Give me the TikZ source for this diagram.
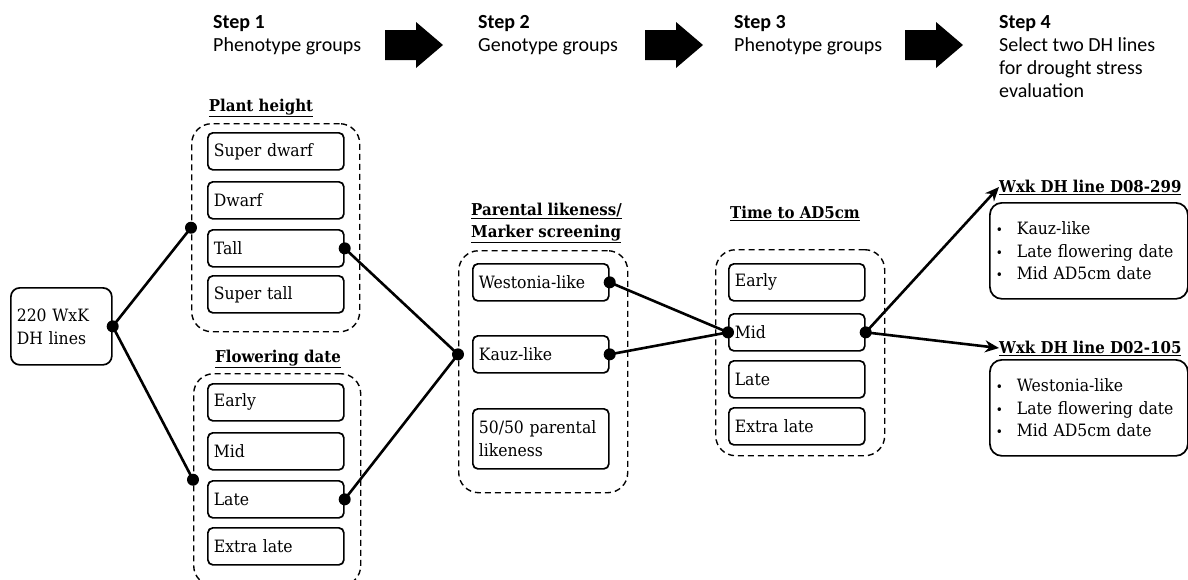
\documentclass[tikz,border=0pt]{standalone}
\usepackage{fontspec}
\setmainfont{DejaVu Serif}[FakeStretch=0.92]
\newfontfamily\stepfont{Carlito}
\usetikzlibrary{arrows.meta}

\tikzset{
  itembox/.style={draw, rounded corners=5pt, line width=1.7pt, text width=124pt,
    minimum height=37pt, inner xsep=6pt, inner ysep=3pt, align=left, anchor=north west,
    font=\fontsize{17}{23}\selectfont},
  groupbox/.style={draw, rounded corners=20pt, line width=1.4pt, dash pattern=on 6pt off 4pt,
    inner sep=0pt, anchor=north west},
  grouptitle/.style={font=\bfseries\fontsize{16.3}{22}\selectfont, inner sep=0pt},
  steplabel/.style={font=\stepfont\fontsize{20}{23}\selectfont, align=left, inner sep=0pt, anchor=north west},
  conn/.style={line width=2.6pt},
  pick/.style={line width=2.6pt, -{Stealth[length=14pt,width=12pt]}},
  dot/.style={fill=black},
  resultbox/.style={draw, rounded corners=12pt, line width=1.7pt, text width=186pt,
    minimum height=96pt, inner xsep=6pt, align=left, anchor=north west,
    font=\fontsize{17}{22.5}\selectfont},
  blockarrow/.style={fill=black}
}

\newcommand{\bul}[1]{{\fontsize{13}{13}\selectfont\textbullet}\hspace{14pt}#1}

\begin{document}
\begin{tikzpicture}[x=1pt,y=-1pt]
\useasboundingbox (0,0) rectangle (1188,579);

% step headings
\node[steplabel] (s1) at (213,15) {\textbf{Step 1}\\Phenotype groups};
\node[steplabel] (s2) at (478,15) {\textbf{Step 2}\\Genotype groups};
\node[steplabel] (s3) at (734,15) {\textbf{Step 3}\\Phenotype groups};
\node[steplabel] (s4) at (999,15) {\textbf{Step 4}\\Select two DH lines\\for drought stress\\evaluation};

% block arrows between steps
\foreach \x in {385,645,905} {
  \fill[blockarrow] (\x,30) -- (\x+31,30) -- (\x+31,22) -- (\x+58,45)
     -- (\x+31,68) -- (\x+31,60) -- (\x,60) -- cycle;
}

% starting population
\node[draw, rounded corners=9pt, line width=1.7pt, minimum width=101pt, minimum height=77pt,
      text width=89pt, inner xsep=6pt, align=left, anchor=north west,
      font=\fontsize{17}{23}\selectfont] (src) at (10,287) {220 WxK\\DH lines};

% step 1: plant height
\node[grouptitle] (tph) at (261,108) {\underline{Plant height}};
\node[groupbox, minimum width=168pt, minimum height=208pt] (ph) at (191,123) {};
\node[itembox] (sdw) at (207,132) {Super dwarf};
\node[itembox] (dw)  at (207,181) {Dwarf};
\node[itembox] (tall) at (207,229) {Tall};
\node[itembox] (stall) at (207,275) {Super tall};

% step 1: flowering date
\node[grouptitle] (tfd) at (278,359) {\underline{Flowering date}};
\node[groupbox, minimum width=167pt, minimum height=212pt] (fd) at (193,373) {};
\node[itembox] (fe) at (207,383) {Early};
\node[itembox] (fm) at (207,432) {Mid};
\node[itembox] (fl) at (207,480) {Late};
\node[itembox] (fx) at (207,527) {Extra late};

% step 2: parental likeness
\node[grouptitle, align=left, anchor=north west] (tpl) at (471,203)
  {\underline{Parental likeness/}\\\underline{Marker screening}};
\node[groupbox, minimum width=169pt, minimum height=242pt] (pl) at (458,250) {};
\node[itembox] (west) at (472,263) {Westonia-like};
\node[itembox] (kauz) at (472,335) {Kauz-like};
\node[itembox, minimum height=60pt] (half) at (472,408) {50/50 parental\\likeness};

% step 3: time to AD5cm
\node[grouptitle] (tad) at (795,213) {\underline{Time to AD5cm}};
\node[groupbox, minimum width=169pt, minimum height=206pt] (ad) at (715,249) {};
\node[itembox] (ae) at (728,263) {Early};
\node[itembox] (am) at (728,313) {Mid};
\node[itembox] (al) at (728,360) {Late};
\node[itembox] (ax) at (728,407) {Extra late};

% step 4: selected lines
\node[grouptitle, anchor=west] (t1) at (999,187) {\underline{Wxk DH line D08-299}};
\node[resultbox] (r1) at (989,202) {\bul{Kauz-like}\\\bul{Late flowering date}\\\bul{Mid AD5cm date}};
\node[grouptitle, anchor=west] (t2) at (999,348) {\underline{Wxk DH line D02-105}};
\node[resultbox] (r2) at (989,359) {\bul{Westonia-like}\\\bul{Late flowering date}\\\bul{Mid AD5cm date}};

% connectors
\draw[conn] (src.east) -- (ph.west);
\draw[conn] (src.east) -- (fd.west);
\draw[conn] (tall.east) -- (pl.west |- kauz.center);
\draw[conn] (fl.east) -- (pl.west |- kauz.center);
\draw[conn] (west.east) -- (am.west);
\draw[conn] (kauz.east) -- (am.west);
\draw[pick] (am.east) -- (t1.west);
\draw[pick] (am.east) -- (t2.west);

% junction dots
\foreach \p in {src.east, ph.west, fd.west, tall.east, fl.east, west.east, kauz.east, am.west, am.east}
  \fill[dot] (\p) circle (6pt);
\fill[dot] (pl.west |- kauz.center) circle (6pt);

\end{tikzpicture}
\end{document}
